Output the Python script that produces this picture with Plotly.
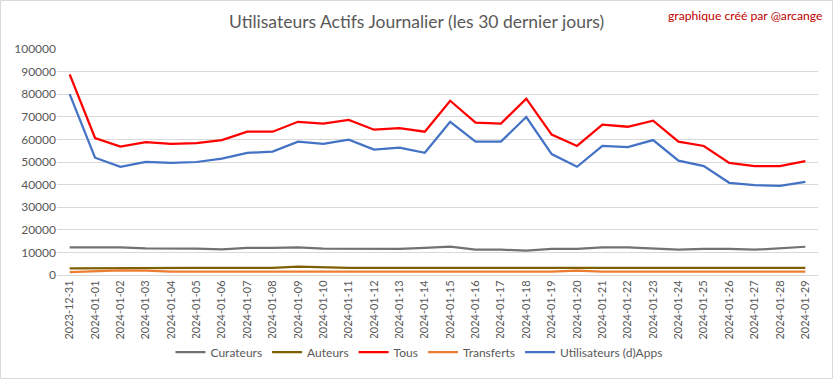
import plotly.graph_objects as go

dates = ["2023-12-31"] + [f"2024-01-{d:02d}" for d in range(1, 30)]

curateurs = [12200, 12200, 12200, 11800, 11800, 11700, 11300, 12000, 12000, 12200,
             11700, 11600, 11600, 11600, 12000, 12500, 11200, 11200, 10800, 11600,
             11600, 12200, 12200, 11700, 11200, 11600, 11600, 11200, 12000, 12500]
auteurs = [2900, 3000, 3200, 3300, 3200, 3200, 3200, 3200, 3200, 3700,
           3300, 3200, 3200, 3200, 3200, 3200, 3200, 3200, 3200, 3200,
           3300, 3200, 3200, 3200, 3200, 3200, 3200, 3200, 3200, 3200]
tous = [88800, 60600, 56800, 58800, 58000, 58400, 59700, 63400, 63400, 67800,
        67000, 68600, 64300, 65000, 63400, 77100, 67400, 67000, 78000, 62100,
        57100, 66500, 65600, 68300, 59000, 57100, 49600, 48200, 48200, 50400]
transferts = [1300, 1700, 2000, 1900, 1500, 1500, 1500, 1500, 1500, 1500,
              1500, 1500, 1500, 1500, 1500, 1500, 1500, 1500, 1500, 1500,
              1900, 1500, 1500, 1500, 1500, 1500, 1500, 1500, 1500, 1500]
apps = [80000, 51900, 47900, 50000, 49600, 50000, 51500, 54000, 54600, 59000,
        58000, 59900, 55500, 56400, 54100, 67800, 59000, 59000, 69900, 53500,
        47900, 57100, 56600, 59700, 50600, 48200, 40800, 39800, 39400, 41200]

series = [
    ("Curateurs", curateurs, "#767171"),
    ("Auteurs", auteurs, "#7F6000"),
    ("Tous", tous, "#FF0000"),
    ("Transferts", transferts, "#ED7D31"),
    ("Utilisateurs (d)Apps", apps, "#4472C4"),
]

fig = go.Figure()
for name, vals, col in series:
    fig.add_trace(go.Scatter(x=dates, y=vals, name=name, mode="lines",
                             line=dict(color=col, width=2.25)))

W, H = 833, 379
ml, mr, mt, mb = 57, 15, 49, 104
pw, ph = W - ml - mr, H - mt - mb

fig.update_layout(
    width=W, height=H,
    margin=dict(l=ml, r=mr, t=mt, b=mb, autoexpand=False),
    paper_bgcolor="white", plot_bgcolor="white",
    font=dict(family="Lato, 'Liberation Sans', sans-serif", color="#595959", size=11),
    showlegend=True,
    legend=dict(orientation="h", x=0.503, xref="container", xanchor="center",
                y=1 - 352 / H, yref="container", yanchor="middle",
                font=dict(size=12, color="#595959"), itemwidth=30, tracegroupgap=0),
    xaxis=dict(type="category", range=[-0.5, 29.5], tickangle=-90, automargin=False,
               showgrid=False, showline=True, linecolor="#D9D9D9", linewidth=1,
               ticks="", tickfont=dict(size=11, color="#595959")),
    yaxis=dict(range=[0, 100000], dtick=10000, showgrid=True, gridcolor="#D9D9D9",
               gridwidth=1, zeroline=False, tickformat="d", ticks="", automargin=False,
               tickfont=dict(size=12, color="#595959")),
    annotations=[
        dict(text="Utilisateurs Actifs Journalier (les 30 dernier jours)",
             xref="paper", yref="paper", x=(416 - ml) / pw, y=(H - mb - 22) / ph,
             xanchor="center", yanchor="middle", showarrow=False,
             font=dict(size=17.5, color="#595959")),
        dict(text="graphique créé par @arcange",
             xref="paper", yref="paper", x=(824 - ml) / pw, y=(H - mb - 15) / ph,
             xanchor="right", yanchor="middle", showarrow=False,
             font=dict(size=12.2, color="#C00000")),
    ],
    shapes=[dict(type="rect", xref="paper", yref="paper",
                 x0=(0.5 - ml) / pw, x1=(W - 0.5 - ml) / pw,
                 y0=(-(mb - 0.5)) / ph, y1=(H - mb - 0.5) / ph,
                 line=dict(color="#D9D9D9", width=1), layer="below")],
)

fig.write_html("out.html", config={"displayModeBar": False},
               post_script="document.body.style.margin='0';document.body.style.overflow='hidden';")
